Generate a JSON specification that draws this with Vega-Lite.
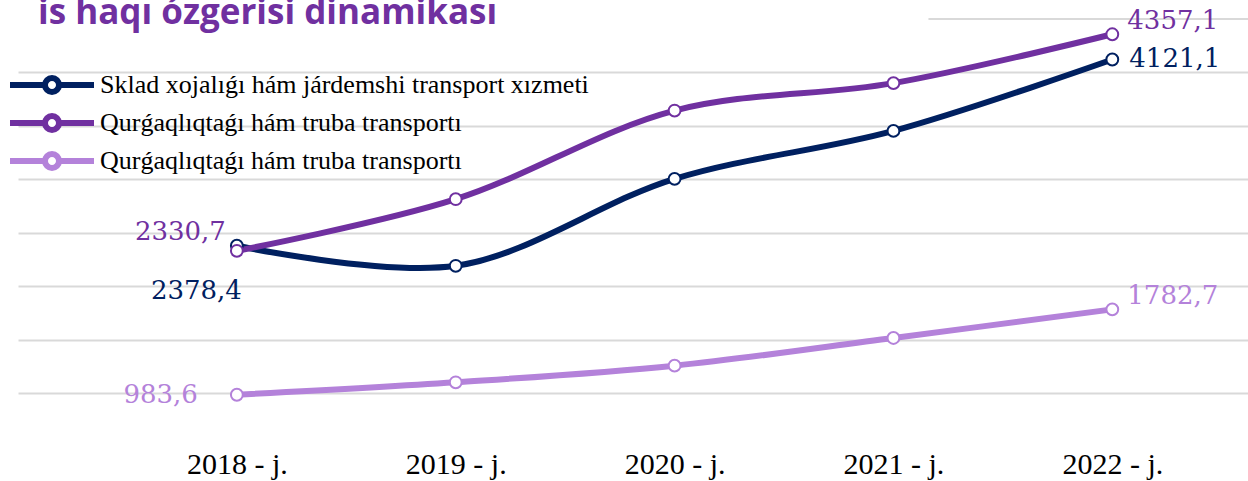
{
  "$schema": "https://vega.github.io/schema/vega-lite/v6.json",
  "autosize": "none",
  "width": 1230,
  "height": 374,
  "padding": {"left": 18, "top": 19, "right": 0, "bottom": 88},
  "background": "white",
  "title": {
    "text": "is haqı ózgerisi dinamikası",
    "anchor": "start",
    "frame": "group",
    "orient": "top",
    "offset": -51,
    "baseline": "alphabetic",
    "dx": 20,
    "font": "Open Sans",
    "fontSize": 35,
    "fontWeight": "bold",
    "color": "#7030A0"
  },
  "config": {
    "locale": {"number": {"decimal": ",", "thousands": " ", "grouping": [3], "currency": ["", ""]}},
    "view": {"stroke": null},
    "legend": {
      "orient": "none",
      "legendX": 21,
      "legendY": 53,
      "padding": 0,
      "title": null,
      "labelFont": "Liberation Serif",
      "labelFontSize": 26,
      "labelColor": "black",
      "labelOffset": 35,
      "labelLimit": 0,
      "rowPadding": 0,
      "symbolSize": 196,
      "symbolType": "M-6,0H-1M1,0H6M-1,0A1,1 0 1,1 1,0A1,1 0 1,1 -1,0",
      "symbolFillColor": "white",
      "symbolStrokeWidth": 6,
      "symbolOpacity": 1
    }
  },
  "data": {
    "values": [
      {"year": 2018, "series": "Sklad xojalıǵı hám járdemshi transport xızmeti", "value": 2378.4},
      {"year": 2019, "series": "Sklad xojalıǵı hám járdemshi transport xızmeti", "value": 2190},
      {"year": 2020, "series": "Sklad xojalıǵı hám járdemshi transport xızmeti", "value": 3004},
      {"year": 2021, "series": "Sklad xojalıǵı hám járdemshi transport xızmeti", "value": 3453},
      {"year": 2022, "series": "Sklad xojalıǵı hám járdemshi transport xızmeti", "value": 4121.1},
      {"year": 2018, "series": "Qurǵaqlıqtaǵı hám truba transportı", "value": 2330.7},
      {"year": 2019, "series": "Qurǵaqlıqtaǵı hám truba transportı", "value": 2814},
      {"year": 2020, "series": "Qurǵaqlıqtaǵı hám truba transportı", "value": 3643},
      {"year": 2021, "series": "Qurǵaqlıqtaǵı hám truba transportı", "value": 3900},
      {"year": 2022, "series": "Qurǵaqlıqtaǵı hám truba transportı", "value": 4357.1},
      {"year": 2018, "series": "Qurǵaqlıqtaǵı hám truba transportı ", "value": 983.6},
      {"year": 2019, "series": "Qurǵaqlıqtaǵı hám truba transportı ", "value": 1100},
      {"year": 2020, "series": "Qurǵaqlıqtaǵı hám truba transportı ", "value": 1256},
      {"year": 2021, "series": "Qurǵaqlıqtaǵı hám truba transportı ", "value": 1515},
      {"year": 2022, "series": "Qurǵaqlıqtaǵı hám truba transportı ", "value": 1782.7}
    ]
  },
  "encoding": {
    "x": {
      "field": "year",
      "type": "quantitative",
      "scale": {"domain": [2017, 2022.62], "nice": false, "zero": false},
      "axis": {
        "title": null,
        "values": [2018, 2019, 2020, 2021, 2022],
        "labelExpr": "datum.value + ' - j.'",
        "grid": false,
        "domain": false,
        "ticks": false,
        "labelFont": "Liberation Serif",
        "labelFontSize": 30,
        "labelColor": "black",
        "labelPadding": 71,
        "labelBaseline": "middle",
        "labelFlush": false,
        "labelOverlap": false
      }
    },
    "y": {
      "field": "value",
      "type": "quantitative",
      "scale": {"domain": [1000, 4500], "nice": false, "zero": false},
      "axis": {
        "title": null,
        "values": [1000, 1500, 2000, 2500, 3000, 3500, 4000],
        "labels": false,
        "ticks": false,
        "domain": false,
        "grid": true,
        "gridColor": "#d9d9d9",
        "gridWidth": 2
      }
    }
  },
  "layer": [
    {
      "data": {"values": [{"from": 2021.16, "to": 2022.62, "level": 4500}]},
      "mark": {"type": "rule", "color": "#d9d9d9", "strokeWidth": 2},
      "encoding": {
        "x": {"field": "from", "type": "quantitative"},
        "x2": {"field": "to"},
        "y": {"field": "level", "type": "quantitative"}
      }
    },
    {
      "mark": {
        "type": "line",
        "interpolate": "catmull-rom",
        "strokeWidth": 6,
        "clip": false,
        "point": {"filled": false, "fill": "white", "size": 140, "strokeWidth": 2, "opacity": 1}
      },
      "encoding": {
        "color": {
          "field": "series",
          "type": "nominal",
          "scale": {
            "domain": [
              "Sklad xojalıǵı hám járdemshi transport xızmeti",
              "Qurǵaqlıqtaǵı hám truba transportı",
              "Qurǵaqlıqtaǵı hám truba transportı "
            ],
            "range": ["#002060", "#7030A0", "#B482DA"]
          },
          "legend": {
            "symbolFillColor": "white",
            "encode": {
              "symbols": {
                "update": {
                  "fill": {"value": "white"},
                  "strokeWidth": {"value": 6},
                  "opacity": {"value": 1}
                }
              }
            }
          }
        }
      }
    },
    {
      "transform": [{"filter": "datum.year == 2022 && datum.series == 'Sklad xojalıǵı hám járdemshi transport xızmeti'"}],
      "mark": {"type": "text", "align": "left", "baseline": "middle", "dx": 17, "dy": 0, "font": "DejaVu Serif", "fontSize": 26, "color": "#002060"},
      "encoding": {"text": {"field": "value", "type": "quantitative", "format": ".1f"}}
    },
    {
      "transform": [{"filter": "datum.year == 2022 && datum.series == 'Qurǵaqlıqtaǵı hám truba transportı'"}],
      "mark": {"type": "text", "align": "left", "baseline": "middle", "dx": 15, "dy": -13, "font": "DejaVu Serif", "fontSize": 26, "color": "#7030A0"},
      "encoding": {"text": {"field": "value", "type": "quantitative", "format": ".1f"}}
    },
    {
      "transform": [{"filter": "datum.year == 2022 && datum.series == 'Qurǵaqlıqtaǵı hám truba transportı '"}],
      "mark": {"type": "text", "align": "left", "baseline": "middle", "dx": 15, "dy": -13, "font": "DejaVu Serif", "fontSize": 26, "color": "#B482DA"},
      "encoding": {"text": {"field": "value", "type": "quantitative", "format": ".1f"}}
    },
    {
      "transform": [{"filter": "datum.year == 2018 && datum.series == 'Qurǵaqlıqtaǵı hám truba transportı'"}],
      "mark": {"type": "text", "align": "right", "baseline": "middle", "dx": -11, "dy": -19, "font": "DejaVu Serif", "fontSize": 26, "color": "#7030A0"},
      "encoding": {"text": {"field": "value", "type": "quantitative", "format": ".1f"}}
    },
    {
      "transform": [{"filter": "datum.year == 2018 && datum.series == 'Sklad xojalıǵı hám járdemshi transport xızmeti'"}],
      "mark": {"type": "text", "align": "right", "baseline": "middle", "dx": 5, "dy": 45, "font": "DejaVu Serif", "fontSize": 26, "color": "#002060"},
      "encoding": {"text": {"field": "value", "type": "quantitative", "format": ".1f"}}
    },
    {
      "transform": [{"filter": "datum.year == 2018 && datum.series == 'Qurǵaqlıqtaǵı hám truba transportı '"}],
      "mark": {"type": "text", "align": "right", "baseline": "middle", "dx": -39, "dy": 0, "font": "DejaVu Serif", "fontSize": 26, "color": "#B482DA"},
      "encoding": {"text": {"field": "value", "type": "quantitative", "format": ".1f"}}
    }
  ]
}
